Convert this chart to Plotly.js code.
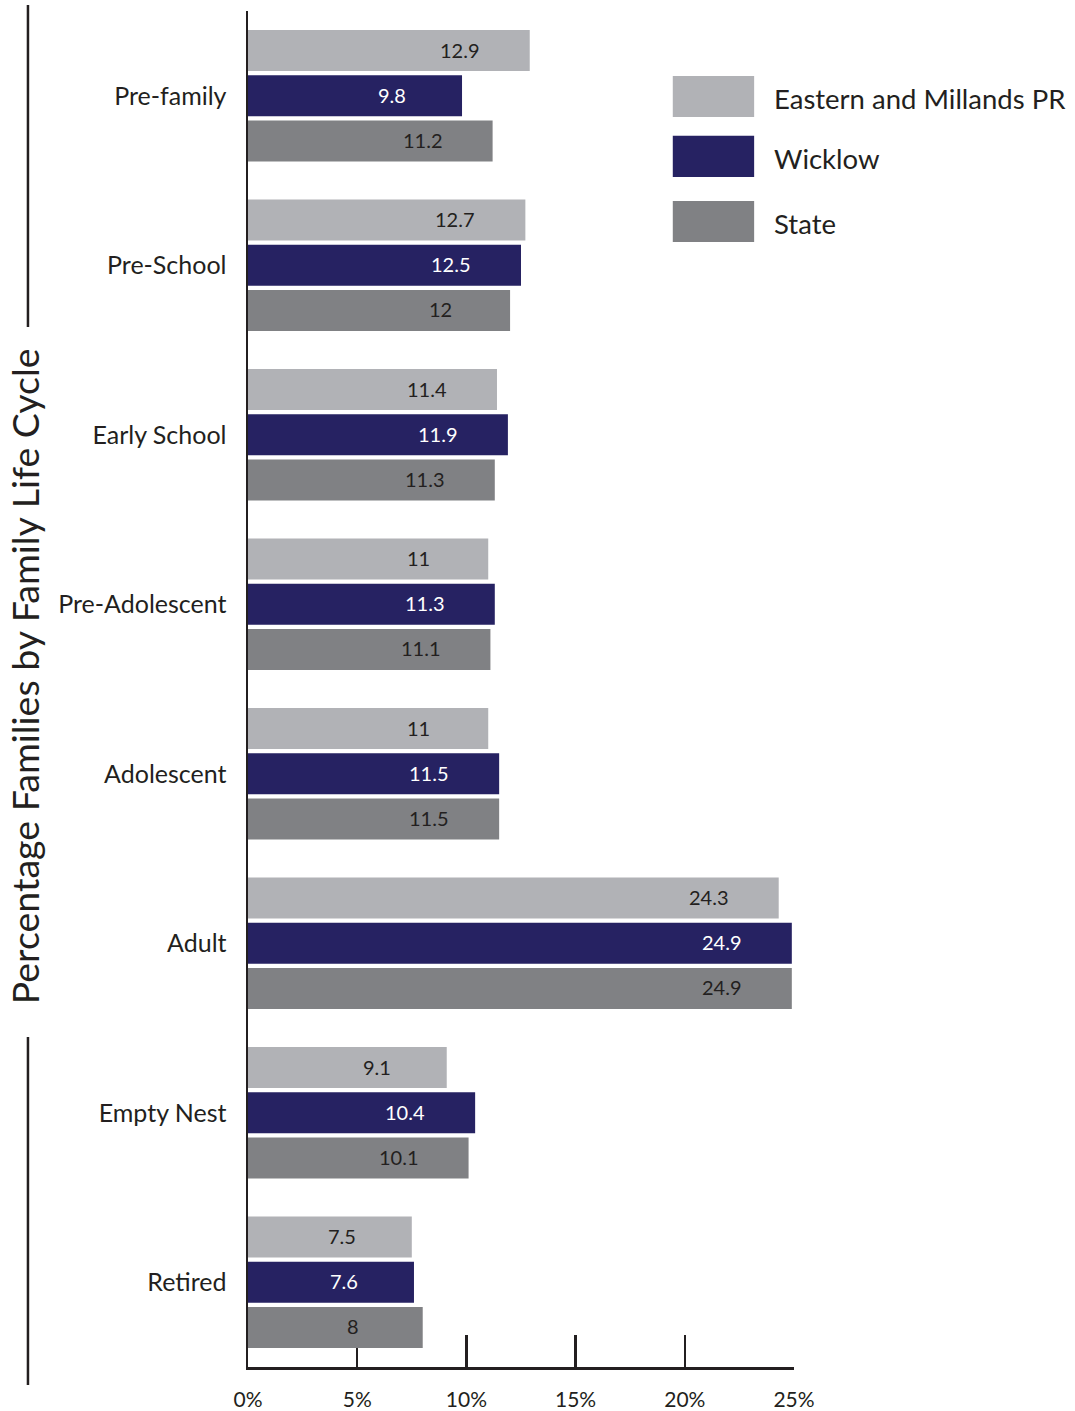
<!DOCTYPE html>
<html>
<head>
<meta charset="utf-8">
<script src="https://cdn.plot.ly/plotly-3.0.1.min.js"></script>
<style>html,body{margin:0;padding:0;background:#fff}#chart{width:1075px;height:1411px}</style>
</head>
<body>
<div id="chart"></div>
<script>
const categories = ["Pre-family","Pre-School","Early School","Pre-Adolescent","Adolescent","Adult","Empty Nest","Retired"];
const seriesNames = ["Eastern and Millands PR","Wicklow","State"];
const easternValues = [12.9,12.7,11.4,11,11,24.3,9.1,7.5];
const wicklowValues = [9.8,12.5,11.9,11.3,11.5,24.9,10.4,7.6];
const stateValues = [11.2,12,11.3,11.1,11.5,24.9,10.1,8];
const xTicks = [0,5,10,15,20,25];
const yTitle = "Percentage Families by Family Life Cycle";

const colors = ["#b1b2b6","#262262","#808184"];
const textColors = ["#231f20","#ffffff","#231f20"];
const allValues = [easternValues, wicklowValues, stateValues];
const FONT = "Lato, 'Open Sans', sans-serif";
const ink = "#231f20";

const traces = allValues.map((vals,i)=>({
  type:'bar', orientation:'h', name:seriesNames[i],
  y:categories, x:vals, marker:{color:colors[i], line:{width:0}},
  hoverinfo:'none', showlegend:false
}));

const annotations = [];
const shifts = [45,0,-45];
allValues.forEach((vals,i)=>{
  vals.forEach((v,j)=>{
    annotations.push({xref:'x', yref:'y', x:v-3.2, y:categories[j], yshift:shifts[i]+1,
      text:String(v), showarrow:false, xanchor:'center', yanchor:'middle',
      font:{family:FONT, size:20, color:textColors[i]}});
  });
});
// y title
annotations.push({xref:'paper', yref:'paper', x:-0.408, y:0.5096, text:yTitle, textangle:-90,
  showarrow:false, xanchor:'center', yanchor:'middle', font:{family:FONT, size:37.5, color:ink}});

// legend (manual)
const shapes = [];
const legRows = [[0.952,0.9218],[0.9080,0.8776],[0.8599,0.8296]];
seriesNames.forEach((n,i)=>{
  shapes.push({type:'rect', xref:'paper', yref:'paper', x0:0.778, x1:0.927, y0:legRows[i][1], y1:legRows[i][0],
    fillcolor:colors[i], line:{width:0}});
  annotations.push({xref:'paper', yref:'paper', x:0.96, y:(legRows[i][0]+legRows[i][1])/2, yshift:-2, text:n,
    showarrow:false, xanchor:'left', yanchor:'middle', font:{family:FONT, size:27.5, color:ink}});
});
// bracket lines around y title
shapes.push({type:'line', xref:'paper', yref:'paper', x0:-0.403, x1:-0.403, y0:0.767, y1:1.0044, line:{color:ink, width:2.5}});
shapes.push({type:'line', xref:'paper', yref:'paper', x0:-0.403, x1:-0.403, y0:-0.0133, y1:0.2434, line:{color:ink, width:2.5}});

const layout = {
  width:1075, height:1411,
  margin:{l:248, r:281, t:11, b:44, pad:0},
  paper_bgcolor:'#fff', plot_bgcolor:'#fff',
  barmode:'group', bargap:0.2, bargroupgap:0.09,
  showlegend:false,
  font:{family:FONT, color:ink},
  xaxis:{range:[0,25], tickvals:xTicks, ticktext:xTicks.map(t=>t+'%'),
    showgrid:false, zeroline:false, showline:true, linecolor:ink, linewidth:2.5,
    ticks:'inside', ticklen:32, tickwidth:2.5, tickcolor:ink, ticklabelstandoff:12,
    tickfont:{family:FONT, size:21, color:ink}, layer:'below traces', fixedrange:true},
  yaxis:{type:'category', range:[7.5,-0.5], showgrid:false, zeroline:false,
    showline:true, linecolor:ink, linewidth:2.5, ticks:'', ticklabelstandoff:14,
    tickfont:{family:FONT, size:25, color:ink}, fixedrange:true},
  annotations:annotations, shapes:shapes
};
Plotly.newPlot('chart', traces, layout, {displayModeBar:false, staticPlot:true});
</script>
</body>
</html>
